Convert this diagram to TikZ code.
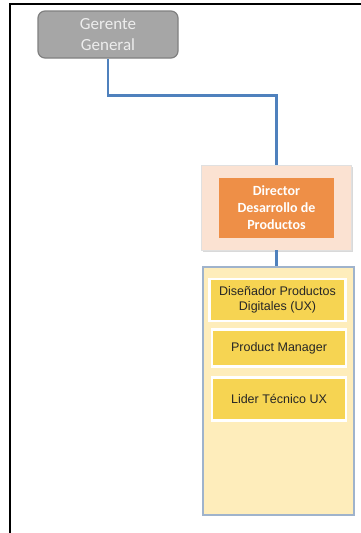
\documentclass[tikz,border=0pt]{standalone}
\usepackage{fontspec}
\setmainfont{Liberation Sans}
\newfontfamily\calib{Carlito}
\usetikzlibrary{shadows}
\definecolor{gris}{HTML}{A6A6A6}
\definecolor{grisborde}{HTML}{808080}
\definecolor{durazno}{HTML}{FBE2D2}
\definecolor{naranja}{HTML}{EE8F47}
\definecolor{crema}{HTML}{FEEDBB}
\definecolor{azulgris}{HTML}{9FB3CC}
\definecolor{oro}{HTML}{F6D452}
\definecolor{azul}{HTML}{4F81BD}

\begin{document}
\begin{tikzpicture}[x=1pt,y=-1pt,
    conn/.style={azul, line width=2.4pt},
    jefe/.style={draw=grisborde, fill=gris, rounded corners=7pt, line width=1.2pt,
      minimum width=140pt, minimum height=47pt, inner sep=0pt, align=center,
      text=white!93!black, font=\calib\fontsize{17}{21}\selectfont},
    cargo/.style={draw=white, line width=2.5pt, fill=oro, inner sep=0pt, align=center,
      minimum width=134pt, text=black!85, font=\fontsize{12.5}{15}\selectfont,
      drop shadow={opacity=0.25, shadow xshift=1pt, shadow yshift=-1pt}}]
      \useasboundingbox (0,0) rectangle (361,533);
      \draw[line width=2.5pt] (10,533) -- (10,4) -- (361,4);
      \node[jefe] (gerente) at (108,34.5) {Gerente\\General};
      \node[draw=black!12, line width=0.8pt, fill=durazno, minimum width=150pt, minimum height=85pt,
        drop shadow={opacity=0.3, shadow xshift=1.5pt, shadow yshift=-1.5pt}] (diro) at (276.5,207.5) {};
      \node[fill=naranja, minimum width=115pt, minimum height=60pt, inner sep=0pt, align=center,
        text=white, font=\calib\bfseries\fontsize{14}{17}\selectfont] (dir) at (diro.center)
        {Director\\Desarrollo de\\Productos};
      \node[draw=azulgris, line width=1.2pt, fill=crema, minimum width=151pt, minimum height=248pt,
        drop shadow={opacity=0.2, shadow xshift=1pt, shadow yshift=-1pt}] (equipo) at (278.5,391) {};
      \node[cargo, minimum width=136pt, minimum height=42pt] (ux) at (277.5,300)
        {Diseñador Productos\\Digitales (UX)};
      \node[cargo, minimum height=37pt] (pm) at (279,348) {Product Manager};
      \node[cargo, minimum height=43pt] (lider) at (279,399) {Lider Técnico UX};
      \draw[conn] (gerente.south) -- ++(0,37) -| (diro.north);
      \draw[conn] (diro.south) -- (diro.south |- equipo.north);
\end{tikzpicture}
\end{document}
